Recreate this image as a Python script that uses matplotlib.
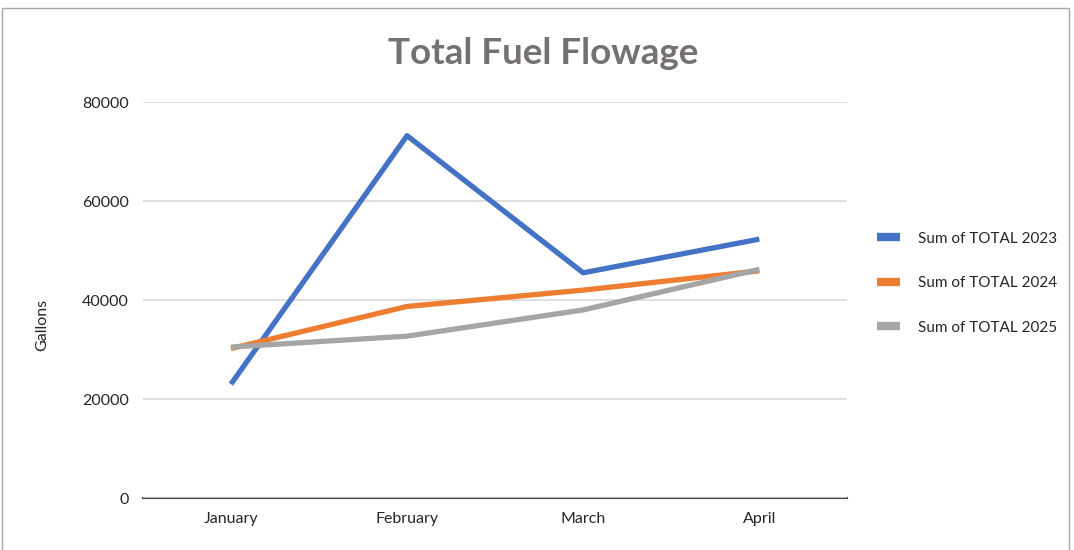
import matplotlib.pyplot as plt
from matplotlib.patches import Rectangle

# data
months = ["January", "February", "March", "April"]
total_2023 = [23000, 73200, 45500, 52300]
total_2024 = [30200, 38700, 42000, 45900]
total_2025 = [30500, 32700, 38000, 46200]
series_names = ["Sum of TOTAL 2023", "Sum of TOTAL 2024", "Sum of TOTAL 2025"]
colors = ["#4472C4", "#ED7D31", "#A5A5A5"]
y_ticks = [0, 20000, 40000, 60000, 80000]

plt.rcParams['font.family'] = ['Lato', 'DejaVu Sans']

fig = plt.figure(figsize=(10.74, 5.5), dpi=100)
ax = fig.add_axes([0.133, 0.0945, 0.656, 0.72])

x = range(len(months))
for vals, name, c in zip([total_2023, total_2024, total_2025], series_names, colors):
    ax.plot(x, vals, color=c, linewidth=3.8, label=name, solid_capstyle='butt')

ax.set_xlim(-0.5, len(months) - 0.5)
ax.set_ylim(0, 80000)
ax.set_yticks(y_ticks)
ax.set_xticks(list(x))
ax.set_xticklabels(months)
ax.tick_params(axis='both', length=0, labelsize=11.5, colors='#262626')
ax.tick_params(axis='x', pad=10)
ax.tick_params(axis='y', pad=10)
ax.grid(axis='y', color='#d9d9d9', linewidth=1.2)
ax.set_axisbelow(True)
for side in ['top', 'right', 'left']:
    ax.spines[side].set_visible(False)
ax.spines['bottom'].set_color('#404040')
ax.spines['bottom'].set_linewidth(1.5)
ax.spines['bottom'].set_zorder(0.5)

fig.text(0.039, 0.409, "Gallons", rotation=90, ha='center', va='center',
         fontsize=11.5, color='#262626')

fig.text(0.506, 0.903, "Total Fuel Flowage", ha='center', va='center',
         fontsize=26.5, fontweight='bold', color='#767171')

leg = ax.legend(loc='center left', bbox_to_anchor=(0.804, 0.485),
                bbox_transform=fig.transFigure, frameon=False,
                fontsize=11, handlelength=1.5, handletextpad=1.2,
                labelspacing=2.0)
for t in leg.get_texts():
    t.set_color('#262626')
for h in leg.get_lines():
    h.set_linewidth(6)

# chart border
fig.patches.append(Rectangle((0.002, -0.01), 0.993, 0.995, transform=fig.transFigure,
                             fill=False, edgecolor='#a6a6a6', linewidth=1))

fig.savefig("out.png", dpi=100)
